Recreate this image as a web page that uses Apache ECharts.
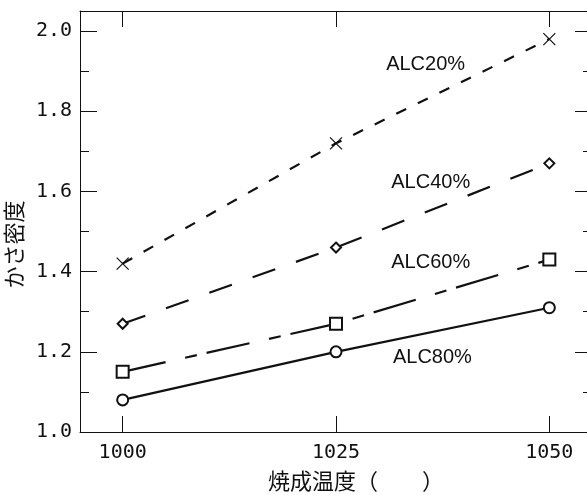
<!DOCTYPE html>
<html><head><meta charset="utf-8">
<script src="https://cdn.jsdelivr.net/npm/echarts@6/dist/echarts.min.js"></script>
<style>html,body{margin:0;padding:0;background:#fff}#c{width:587px;height:495px}</style>
</head><body><div id="c"></div>
<script>
const temps = [1000, 1025, 1050];
const alc20 = [1.42, 1.72, 1.98];
const alc40 = [1.27, 1.46, 1.67];
const alc60 = [1.15, 1.27, 1.43];
const alc80 = [1.08, 1.20, 1.31];
const seriesNames = ['ALC20%', 'ALC40%', 'ALC60%', 'ALC80%'];
const labelPos = [[1035.5, 1.917], [1036.1, 1.6225], [1036.1, 1.4225], [1036.3, 1.185]];
const xTicks = [1000, 1025, 1050];
const yTicks = [1.0, 1.2, 1.4, 1.6, 1.8, 2.0];
const yMinor = [1.1, 1.3, 1.5, 1.7, 1.9];

const ink = '#111';
const X_MIN = 995, X_MAX = 1055, Y_MIN = 1.0, Y_MAX = 2.05;
const tickFont = {fontFamily: 'DejaVu Sans Mono', fontSize: 20, color: ink};
const cjk = '"Noto Sans CJK JP"';

function xa(pos, labels) {
  return {
    type: 'value', position: pos, min: X_MIN, max: X_MAX,
    axisLine: {show: true, onZero: false, lineStyle: {color: ink, width: 1}},
    axisTick: {show: true, inside: true, length: 16, customValues: xTicks, lineStyle: {color: ink, width: 1}},
    axisLabel: labels ? Object.assign({show: true, customValues: xTicks, margin: 11, formatter: v => String(v)}, tickFont) : {show: false},
    splitLine: {show: false}
  };
}
function ya(pos, ticks, len, labels, line) {
  return {
    type: 'value', position: pos, min: Y_MIN, max: Y_MAX,
    axisLine: {show: line, onZero: false, lineStyle: {color: ink, width: 1}},
    axisTick: {show: true, inside: true, length: len, customValues: ticks, lineStyle: {color: ink, width: 1}},
    axisLabel: labels ? Object.assign({show: true, customValues: ticks, margin: 8, formatter: v => v.toFixed(1)}, tickFont) : {show: false},
    splitLine: {show: false}
  };
}

const xAxes = [xa('bottom', true), xa('top', false)];
xAxes[0].name = '焼成温度（　　）';
xAxes[0].nameLocation = 'middle';
xAxes[0].nameGap = 38;
xAxes[0].nameTextStyle = {fontFamily: cjk, fontSize: 22, color: ink, padding: [0, 0, 0, 40]};

const yAxes = [ya('left', yTicks, 17, true, true), ya('left', yMinor, 9, false, false),
               ya('right', yTicks, 17, false, true), ya('right', yMinor, 9, false, false)];
yAxes[0].name = 'かさ密度';
yAxes[0].nameLocation = 'middle';
yAxes[0].nameGap = 50;
yAxes[0].nameTextStyle = {fontFamily: cjk, fontSize: 22, color: ink, padding: [0, 46, 0, 0]};

function pts(vals) { return temps.map((t, i) => [t, vals[i]]); }

const styles = [
  {symbol: 'path://M0,0L10,10M10,0L0,10', size: 12, dash: [11, 13], item: {color: 'none', borderColor: ink, borderWidth: 1.2}},
  {symbol: 'emptyDiamond', size: 10, dash: [24, 22], item: {color: ink, borderWidth: 1}},
  {symbol: 'emptyRect', size: 12, dash: [44, 20, 12, 10], item: {color: ink, borderWidth: 1}},
  {symbol: 'emptyCircle', size: 11, dash: 'solid', item: {color: ink, borderWidth: 1}}
];
const data = [alc20, alc40, alc60, alc80];

const series = data.map((d, i) => ({
  name: seriesNames[i], type: 'line', data: pts(d),
  symbol: styles[i].symbol, symbolSize: styles[i].size, showAllSymbol: true,
  lineStyle: {color: ink, width: 2.2, type: styles[i].dash},
  itemStyle: styles[i].item,
  animation: false, z: 3
}));

const chart = echarts.init(document.getElementById('c'), null, {renderer: 'canvas'});
chart.setOption({
  backgroundColor: '#fff',
  animation: false,
  grid: {left: 80, top: 11, width: 512, height: 421, containLabel: false, outerBoundsMode: 'none'},
  xAxis: xAxes,
  yAxis: yAxes,
  series: series
});
chart.setOption({
  graphic: labelPos.map((p, i) => {
    const px = chart.convertToPixel({xAxisIndex: 0, yAxisIndex: 0}, p);
    return {
      type: 'text', x: px[0], y: px[1], z: 10, silent: true,
      style: {text: seriesNames[i], fill: ink, align: 'center', verticalAlign: 'middle',
              font: '20px "Liberation Sans", Arial, sans-serif'}
    };
  })
});
</script></body></html>
